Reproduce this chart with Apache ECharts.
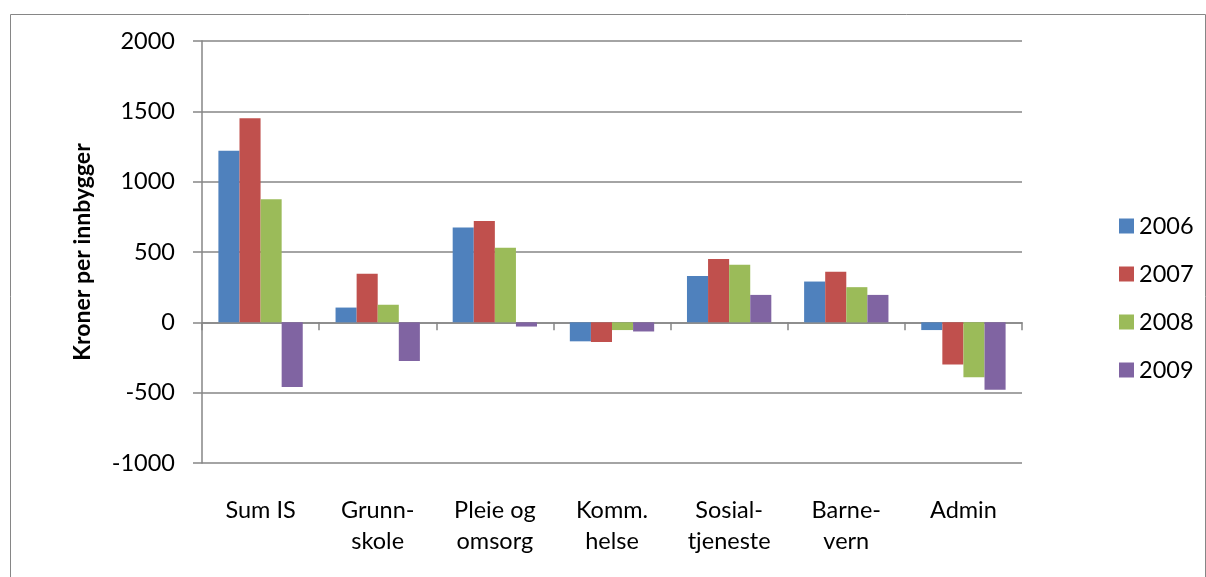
<!DOCTYPE html>
<html><head><meta charset="utf-8">
<script src="https://cdn.jsdelivr.net/npm/echarts@6/dist/echarts.min.js"></script>
<style>html,body{margin:0;padding:0;background:#fff}#c{width:1206px;height:577px}</style>
</head><body><div id="c"></div>
<script>
const categories = ['Sum IS', 'Grunn-\nskole', 'Pleie og\nomsorg', 'Komm.\nhelse', 'Sosial-\ntjeneste', 'Barne-\nvern', 'Admin'];
const years = ['2006', '2007', '2008', '2009'];
const v2006 = [1220, 105, 675, -135, 330, 290, -55];
const v2007 = [1450, 345, 720, -140, 450, 360, -300];
const v2008 = [875, 125, 530, -55, 410, 250, -390];
const v2009 = [-460, -275, -30, -65, 195, 195, -480];
const colors = ['#4F81BD', '#C0504D', '#9BBB59', '#8064A2'];
const seriesData = [v2006, v2007, v2008, v2009];
const FONT = 'Lato';
const FS = 23.5;
const chart = echarts.init(document.getElementById('c'), null, {renderer: 'canvas'});
chart.setOption({
  animation: false,
  textStyle: {fontFamily: FONT, color: '#000'},
  graphic: [{type: 'rect', left: 8, top: 12, shape: {width: 1195, height: 600}, style: {fill: 'none', stroke: '#868686', lineWidth: 1}, silent: true}],
  grid: {left: 202, right: 184, top: 41, bottom: 114},
  legend: {
    orient: 'vertical', left: 1114, top: 209, itemWidth: 15, itemHeight: 15, itemGap: 24,
    icon: 'rect', textStyle: {fontSize: FS, fontFamily: FONT, color: '#000'},
    data: years
  },
  xAxis: [
    {type: 'category', data: categories, position: 'bottom',
     axisLine: {show: false, onZero: false}, axisTick: {show: false},
     axisLabel: {fontSize: FS, lineHeight: 31, margin: 32, color: '#000', fontFamily: FONT, interval: 0}},
    {type: 'category', data: categories, position: 'bottom',
     axisLine: {show: true, onZero: true, lineStyle: {color: '#868686', width: 1.5}},
     axisTick: {show: true, inside: false, length: 8, lineStyle: {color: '#868686', width: 1.5}},
     axisLabel: {show: false}}
  ],
  yAxis: {
    type: 'value', min: -1000, max: 2000, interval: 500,
    name: 'Kroner per innbygger', nameLocation: 'middle', nameGap: 108,
    nameTextStyle: {fontSize: 23, fontWeight: 'bold', color: '#000', fontFamily: FONT},
    axisLine: {show: true, lineStyle: {color: '#868686', width: 1.5}},
    axisTick: {show: true, length: 9, lineStyle: {color: '#868686', width: 1.5}},
    axisLabel: {fontSize: FS, margin: 27, color: '#000', fontFamily: FONT, formatter: v => String(v)},
    splitLine: {lineStyle: {color: '#868686', width: 1.5}}
  },
  series: years.map((y, i) => ({
    name: y, type: 'bar', xAxisIndex: 0, data: seriesData[i],
    barGap: '0%', barCategoryGap: '28%',
    itemStyle: {color: colors[i]}
  }))
});
</script></body></html>
